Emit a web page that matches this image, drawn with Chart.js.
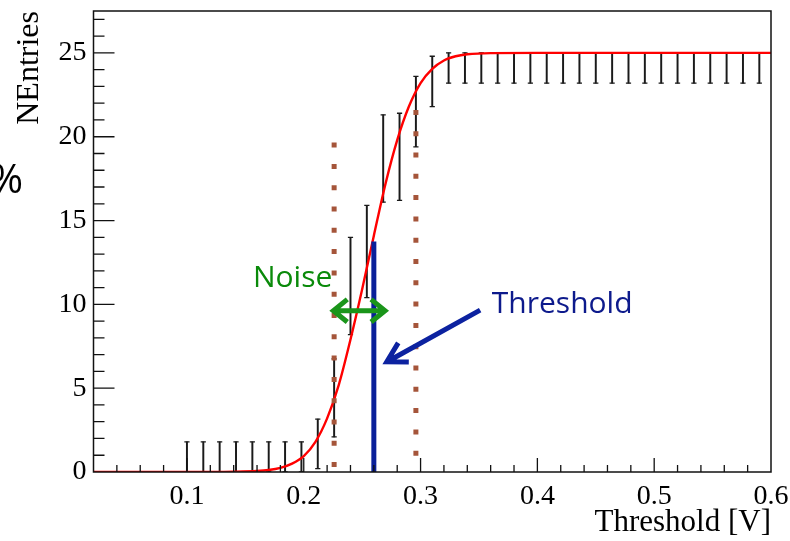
<!DOCTYPE html>
<html>
<head>
<meta charset="utf-8">
<script src="https://cdn.jsdelivr.net/npm/chart.js@4.4.1/dist/chart.umd.min.js"></script>
<style>
  html, body { margin: 0; padding: 0; background: #fff; }
  #wrap { width: 790px; height: 541px; }
</style>
</head>
<body>
<div id="wrap"><canvas id="chart" width="790" height="541"></canvas></div>
<script>
// bin centres and error bar ends
const binX = [0.100, 0.114, 0.128, 0.142, 0.156, 0.170, 0.184, 0.198, 0.212, 0.226,
              0.240, 0.254, 0.268, 0.282, 0.296, 0.310, 0.324, 0.338, 0.352, 0.366,
              0.380, 0.394, 0.408, 0.422, 0.436, 0.450, 0.464, 0.478, 0.492, 0.506,
              0.520, 0.534, 0.548, 0.562, 0.576, 0.590];
const errLow = [0, 0, 0, 0, 0, 0, 0, 0, 0.2, 2.1,
                8.2, 10.4, 16.1, 16.2, 19.4, 21.8, 23.2, 23.2, 23.2, 23.2,
                23.2, 23.2, 23.2, 23.2, 23.2, 23.2, 23.2, 23.2, 23.2, 23.2,
                23.2, 23.2, 23.2, 23.2, 23.2, 23.2];
const errHigh = [1.8, 1.8, 1.8, 1.8, 1.8, 1.8, 1.8, 1.8, 3.15, 6.75,
                 14.0, 15.9, 21.3, 21.4, 23.6, 24.8, 25, 25, 25, 25,
                 25, 25, 25, 25, 25, 25, 25, 25, 25, 25,
                 25, 25, 25, 25, 25, 25];

// red fit curve
const fitX = [0.02, 0.10, 0.14, 0.16, 0.17, 0.18, 0.19, 0.20, 0.21, 0.22, 0.23, 0.24, 0.25,
              0.26, 0.27, 0.28, 0.29, 0.30, 0.31, 0.32, 0.33, 0.34, 0.36, 0.40, 0.60];
const fitY = [0, 0, 0.02, 0.06, 0.12, 0.25, 0.5, 0.95, 1.8, 3.2, 5.2, 7.9, 10.9,
              14.1, 17.2, 19.8, 21.8, 23.2, 24.05, 24.55, 24.8, 24.92, 24.99, 25, 25];

// annotation values
const noiseEdges = [0.226, 0.296];      // dotted lines x
const noiseTops = [19.65, 21.6];        // dotted lines top
const thresholdX = 0.26;
const thresholdTop = 13.75;

const xTicks = [0.1, 0.2, 0.3, 0.4, 0.5, 0.6];
const yTicks = [0, 5, 10, 15, 20, 25];

const serif = "'Liberation Serif', 'Times New Roman', serif";

// box + inward ROOT-style ticks
const frameTicks = {
  id: 'frameTicks',
  afterDraw(chart) {
    const { ctx, chartArea: a, scales: { x, y } } = chart;
    ctx.save();
    ctx.strokeStyle = '#111';
    ctx.lineWidth = 1.5;
    ctx.strokeRect(a.left, a.top, a.right - a.left, a.bottom - a.top);
    ctx.lineWidth = 1.3;
    ctx.beginPath();
    for (let i = 1; i < 30; i++) {
      const v = i * 0.02;
      if (v <= x.min + 1e-6 || v >= x.max - 1e-6) continue;
      const px = x.getPixelForValue(v);
      const len = i % 5 === 0 ? 14 : 7;
      ctx.moveTo(px, a.bottom);
      ctx.lineTo(px, a.bottom - len);
    }
    for (let v = 1; v < y.max; v++) {
      const py = y.getPixelForValue(v);
      const len = v % 5 === 0 ? 21 : 11;
      ctx.moveTo(a.left, py);
      ctx.lineTo(a.left + len, py);
    }
    ctx.stroke();
    ctx.restore();
  }
};

function head(ctx, x0, y0, x1, y1, len, spread) {
  const ang = Math.atan2(y1 - y0, x1 - x0);
  ctx.moveTo(x1 - len * Math.cos(ang - spread), y1 - len * Math.sin(ang - spread));
  ctx.lineTo(x1, y1);
  ctx.lineTo(x1 - len * Math.cos(ang + spread), y1 - len * Math.sin(ang + spread));
}

// arrows and slide labels
const notes = {
  id: 'notes',
  afterDatasetsDraw(chart) {
    const { ctx, scales: { x, y } } = chart;
    ctx.save();
    ctx.lineJoin = 'miter';
    ctx.lineCap = 'butt';

    // green double arrow (noise width)
    const gy = y.getPixelForValue(9.62);
    const gx0 = x.getPixelForValue(0.2253), gx1 = x.getPixelForValue(0.2696);
    ctx.strokeStyle = '#1a951a';
    ctx.lineWidth = 5;
    ctx.beginPath();
    ctx.moveTo(gx0 + 3, gy); ctx.lineTo(gx1 - 3, gy);
    head(ctx, gx1, gy, gx0, gy, 18, 0.68);
    head(ctx, gx0, gy, gx1, gy, 18, 0.68);
    ctx.stroke();

    // blue arrow pointing to threshold
    const tx0 = x.getPixelForValue(0.351), ty0 = y.getPixelForValue(9.66);
    const tx1 = x.getPixelForValue(0.2711), ty1 = y.getPixelForValue(6.58);
    ctx.strokeStyle = '#0c22a0';
    ctx.lineWidth = 5;
    ctx.beginPath();
    ctx.moveTo(tx0, ty0); ctx.lineTo(tx1 + 3, ty1 - 1.5);
    head(ctx, tx0, ty0, tx1, ty1, 22, 0.52);
    ctx.stroke();

    ctx.font = "30px 'Open Sans'";
    ctx.textBaseline = 'alphabetic';
    ctx.textAlign = 'left';
    ctx.fillStyle = '#0a8a0a';
    ctx.fillText('Noise', x.getPixelForValue(0.1565), y.getPixelForValue(11.04));
    ctx.fillStyle = '#0d1a8c';
    ctx.fillText('Threshold', x.getPixelForValue(0.361), y.getPixelForValue(9.49));

    ctx.fillStyle = '#000';
    ctx.font = "40px 'Open Sans'";
    ctx.textAlign = 'right';
    ctx.fillText('%', 23, 193);
    ctx.restore();
  }
};

const brown = '#a5553a';

function noPad(s) {
  s.paddingTop = 0; s.paddingBottom = 0; s.paddingLeft = 0; s.paddingRight = 0;
}

new Chart(document.getElementById('chart'), {
  type: 'bar',
  data: {
    datasets: [
      {
        type: 'line', order: 0,
        data: [{ x: thresholdX, y: 0 }, { x: thresholdX, y: thresholdTop }],
        borderColor: '#0a209a', borderWidth: 5, pointRadius: 0, borderCapStyle: 'butt'
      },
      {
        type: 'line', order: 1,
        data: [{ x: noiseEdges[0], y: noiseTops[0] }, { x: noiseEdges[0], y: 0 }],
        borderColor: brown, borderWidth: 5, borderDash: [5, 16.3], borderCapStyle: 'butt', pointRadius: 0
      },
      {
        type: 'line', order: 1,
        data: [{ x: noiseEdges[1], y: noiseTops[1] }, { x: noiseEdges[1], y: 0 }],
        borderColor: brown, borderWidth: 5, borderDash: [5, 16.3], borderCapStyle: 'butt', pointRadius: 0
      },
      {
        type: 'line', order: 2,
        data: fitX.map((v, i) => ({ x: v, y: fitY[i] })),
        borderColor: '#ff0000', borderWidth: 2.4, pointRadius: 0,
        cubicInterpolationMode: 'monotone'
      },
      {
        type: 'bar', order: 3,
        data: binX.map((v, i) => ({ x: v, y: [errLow[i], errHigh[i]] })),
        backgroundColor: '#1a1a1a', borderWidth: 0, barThickness: 1.3
      },
      {
        type: 'line', order: 3, showLine: false,
        data: binX.map((v, i) => ({ x: v, y: errHigh[i] })),
        pointStyle: 'line', pointRadius: 2.6, borderColor: '#1a1a1a', borderWidth: 1.3
      },
      {
        type: 'line', order: 3, showLine: false,
        data: binX.map((v, i) => ({ x: v, y: errLow[i] })),
        pointStyle: 'line', pointRadius: 2.6, borderColor: '#1a1a1a', borderWidth: 1.3
      }
    ]
  },
  options: {
    responsive: false,
    animation: false,
    devicePixelRatio: 1,
    layout: { padding: { left: 0, top: 11, right: 19, bottom: 0 } },
    plugins: { legend: { display: false }, tooltip: { enabled: false } },
    scales: {
      x: {
        type: 'linear', min: 0.02, max: 0.6, offset: false,
        grid: { display: false, drawTicks: false },
        border: { display: false },
        afterBuildTicks: s => { s.ticks = xTicks.map(v => ({ value: v })); },
        afterFit: s => { s.height = 69; noPad(s); },
        ticks: {
          padding: 8, color: '#000', maxRotation: 0, autoSkip: false,
          font: { family: serif, size: 28 },
          callback: v => v.toFixed(1)
        },
        title: {
          display: true, text: 'Threshold [V]', align: 'end', color: '#000',
          font: { family: serif, size: 31 }, padding: { top: 0, bottom: 0 }
        }
      },
      y: {
        type: 'linear', min: 0, max: 27.5,
        grid: { display: false, drawTicks: false },
        border: { display: false },
        afterBuildTicks: s => { s.ticks = yTicks.map(v => ({ value: v })); },
        afterFit: s => { s.width = 93.5; noPad(s); },
        ticks: {
          padding: 7, color: '#000', autoSkip: false,
          font: { family: serif, size: 28 }
        },
        title: {
          display: true, text: 'NEntries', align: 'end', color: '#000',
          font: { family: serif, size: 32 }, padding: { top: 10, bottom: 0 }
        }
      }
    }
  },
  plugins: [frameTicks, notes]
});
</script>
</body>
</html>
